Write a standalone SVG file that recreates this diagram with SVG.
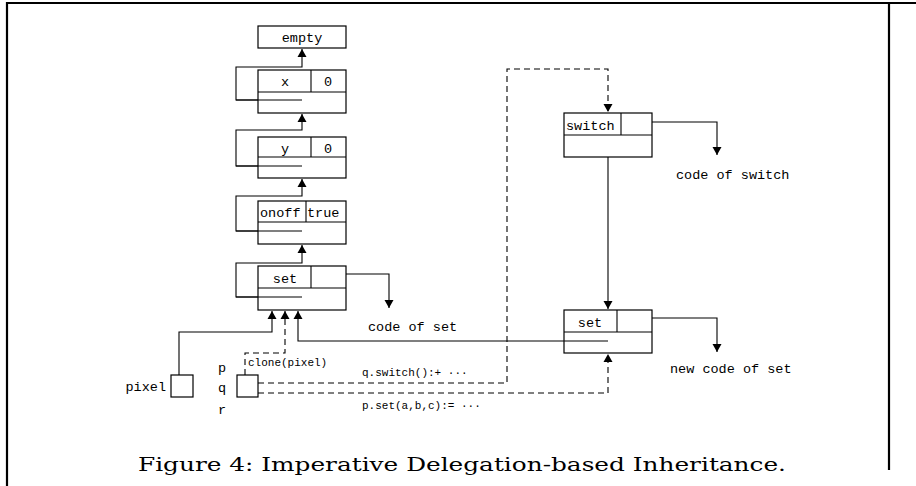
<svg xmlns="http://www.w3.org/2000/svg" width="916" height="486" viewBox="0 0 916 486">
<defs>
<marker id="ah" viewBox="0 0 8 12" refX="8" refY="6" markerWidth="8" markerHeight="12" markerUnits="userSpaceOnUse" orient="auto">
<path d="M0,1.5 L8,6 L0,10.5 Z" fill="#000"/>
</marker>
<style>
.box{fill:#fff;stroke:#000;stroke-width:1.2}
.ln{fill:none;stroke:#000;stroke-width:1.1}
.ds{fill:none;stroke:#000;stroke-width:1.1;stroke-dasharray:6,4}
.t{font-family:"Liberation Mono","DejaVu Sans Mono",monospace;font-size:13.5px;fill:#000}
.s{font-family:"Liberation Mono","DejaVu Sans Mono",monospace;font-size:11px;fill:#000}
.cap{font-family:"DejaVu Serif","Liberation Serif",serif;font-size:19px;fill:#000}
</style>
</defs>
<rect width="916" height="486" fill="#fff"/>
<g id="frame" fill="none" stroke="#000" stroke-width="2.2">
<path d="M7,486 V3 H916"/>
<path d="M889,3 V470"/>
</g>
<g id="connectors">
<path class="ln" d="M302,100 H236 V67 H302 V49" marker-end="url(#ah)"/>
<path class="ln" d="M302,166 H236 V130 H302 V114" marker-end="url(#ah)"/>
<path class="ln" d="M302,231 H236 V196 H302 V179" marker-end="url(#ah)"/>
<path class="ln" d="M302,297 H236 V263 H302 V245" marker-end="url(#ah)"/>
<path class="ln" d="M324,274 H389 V308" marker-end="url(#ah)"/>
<path class="ln" d="M179,375 V332 H272 V311" marker-end="url(#ah)"/>
<path class="ds" d="M245,375 V353 H285 V311" marker-end="url(#ah)"/>
<path class="ln" d="M608,341 H298 V311" marker-end="url(#ah)"/>
<path class="ds" d="M258,383 H507 V69 H608 V112" marker-end="url(#ah)"/>
<path class="ds" d="M258,393 H608 V354" marker-end="url(#ah)"/>
<path class="ln" d="M630,122 H717 V155" marker-end="url(#ah)"/>
<path class="ln" d="M608,145 V309" marker-end="url(#ah)"/>
<path class="ln" d="M630,318 H717 V352" marker-end="url(#ah)"/>
</g>
<g id="empty">
<rect class="box" x="258" y="26" width="88" height="22"/>
<text class="t" x="302" y="42" text-anchor="middle">empty</text>
</g>
<g id="obj-x">
<rect class="box" x="258" y="70" width="88" height="43"/>
<path class="ln" d="M258,92 H346 M311,70 V92"/>
<text class="t" x="285" y="86" text-anchor="middle">x</text>
<text class="t" x="328" y="86" text-anchor="middle">0</text>
<path class="ln" d="M236,100 H302"/>
</g>
<g id="obj-y">
<rect class="box" x="258" y="137" width="88" height="41"/>
<path class="ln" d="M258,157 H346 M311,137 V157"/>
<text class="t" x="285" y="153" text-anchor="middle">y</text>
<text class="t" x="328" y="153" text-anchor="middle">0</text>
<path class="ln" d="M236,166 H302"/>
</g>
<g id="obj-onoff">
<rect class="box" x="258" y="201" width="88" height="43"/>
<path class="ln" d="M258,222 H346 M306,201 V222"/>
<text class="t" x="260" y="217">onoff</text>
<text class="t" x="307" y="217">true</text>
<path class="ln" d="M236,231 H302"/>
</g>
<g id="obj-set">
<rect class="box" x="258" y="266" width="88" height="44"/>
<path class="ln" d="M258,288 H346 M311,266 V288"/>
<text class="t" x="285" y="283" text-anchor="middle">set</text>
<path class="ln" d="M236,297 H302"/>
</g>
<g id="code-set">
<text class="t" x="368" y="331">code of set</text>
</g>
<g id="pixel">
<rect class="box" x="171" y="375" width="22" height="22"/>
<text class="t" x="166" y="391" text-anchor="end">pixel</text>
</g>
<g id="pqr">
<rect class="box" x="237" y="375" width="21" height="22"/>
<text class="t" x="218" y="372">p</text>
<text class="t" x="218" y="392">q</text>
<text class="t" x="218" y="414">r</text>
</g>
<g id="labels">
<text class="s" x="248" y="366">clone(pixel)</text>
<text class="s" x="362" y="376">q.switch():+  ···</text>
<text class="s" x="362" y="409">p.set(a,b,c):=  ···</text>
</g>
<g id="obj-switch">
<rect class="box" x="564" y="113" width="88" height="44"/>
<path class="ln" d="M564,135 H652 M621,113 V135"/>
<text class="t" x="566" y="130">switch</text>
</g>
<g id="code-switch">
<text class="t" x="676" y="179">code of switch</text>
</g>
<g id="obj-newset">
<rect class="box" x="564" y="310" width="88" height="43"/>
<path class="ln" d="M564,332 H652 M617,310 V332"/>
<text class="t" x="590" y="327" text-anchor="middle">set</text>
<path class="ln" d="M564,341 H608"/>
</g>
<g id="new-code-set">
<text class="t" x="670" y="373">new code of set</text>
</g>
<g id="caption">
<text class="cap" x="138" y="471" textLength="648" lengthAdjust="spacingAndGlyphs">Figure 4: Imperative Delegation-based Inheritance.</text>
</g>
</svg>
